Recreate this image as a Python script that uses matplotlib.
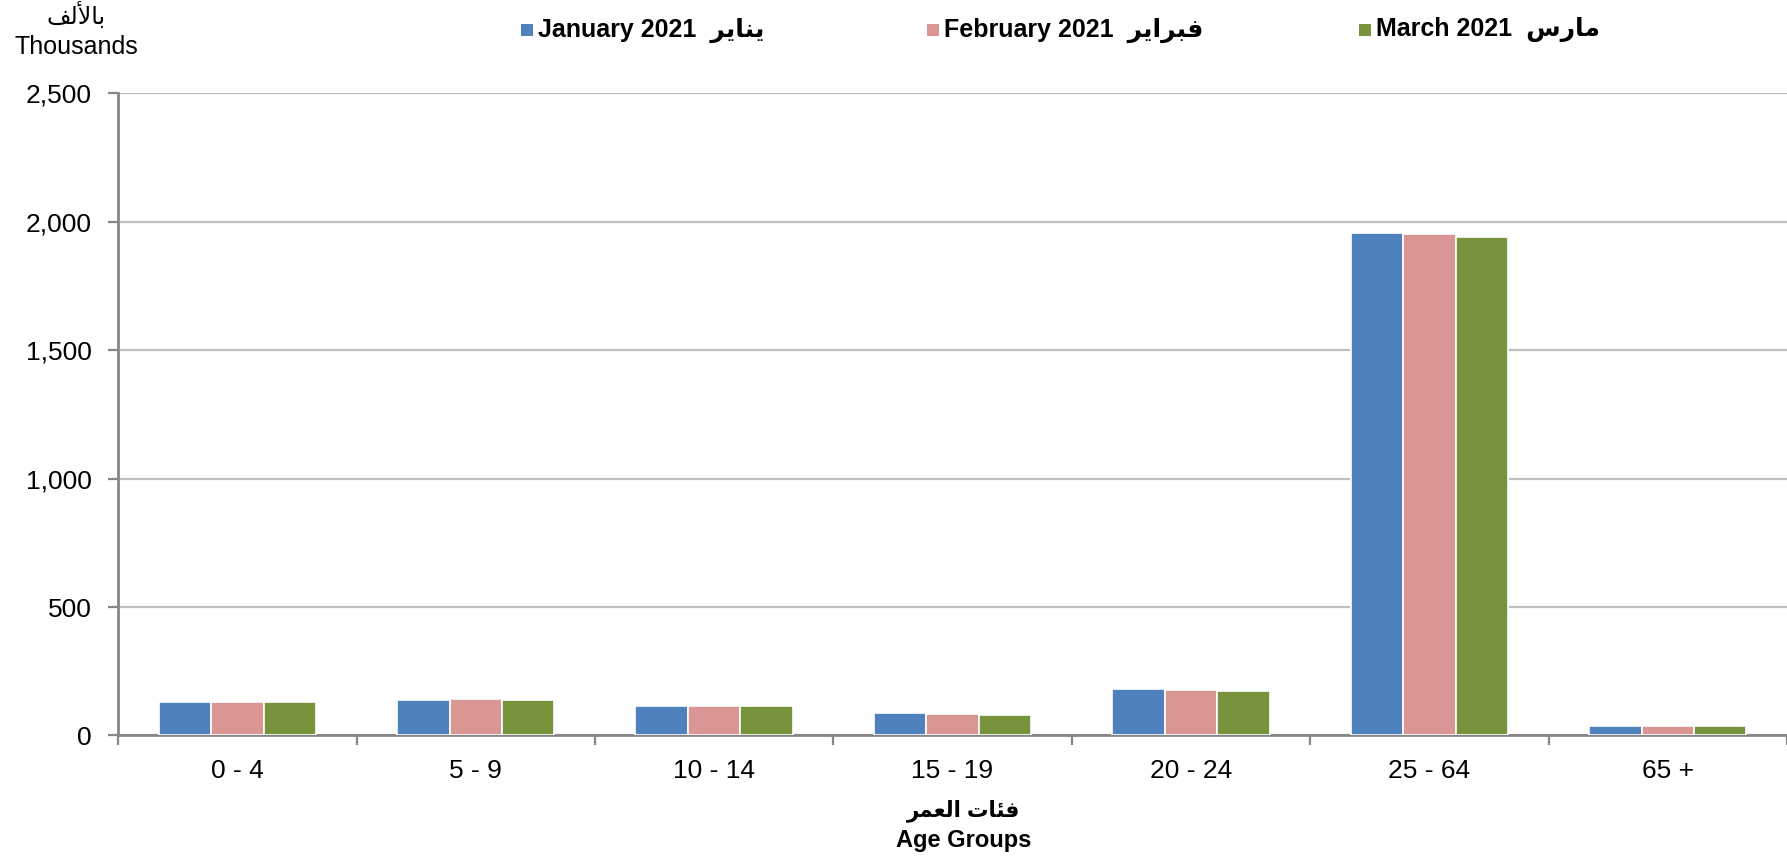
import matplotlib
matplotlib.use("Agg")
import matplotlib.pyplot as plt
from matplotlib.patches import Rectangle
import numpy as np

# ---- data ----
categories = ["0 - 4", "5 - 9", "10 - 14", "15 - 19", "20 - 24", "25 - 64", "65 +"]
jan = [130, 140, 116, 86, 182, 1957, 37]
feb = [130, 143, 116, 84, 178, 1952, 37]
mar = [130, 140, 116, 80, 174, 1940, 37]
series_en = ["January 2021", "February 2021", "March 2021"]
# Arabic month names, pre-shaped (presentation forms) in visual order
series_ar = ["\uFEAE\uFEF3\uFE8E\uFEE8\uFEF3",            # يناير
             "\uFEAE\uFEF3\uFE8D\uFEAE\uFE92\uFED3",      # فبراير
             "\uFEB1\uFEAD\uFE8E\uFEE3"]                  # مارس
unit_ar = "\uFED2\uFEDF\uFEF7\uFE8E\uFE91"                # بالألف
xlabel_ar = "\uFEAE\uFEE4\uFECC\uFEDF\uFE8D \uFE95\uFE8E\uFE8C\uFED3"  # فئات العمر
yticks = [0, 500, 1000, 1500, 2000, 2500]
colors = ["#4F81BD", "#D99694", "#77933C"]

FAM = ["Liberation Sans", "DejaVu Sans"]
plt.rcParams["font.family"] = FAM

fig = plt.figure(figsize=(17.87, 8.57), dpi=100)
ax = fig.add_axes([0.0661, 0.1418, 0.9339, 0.7491])

x = np.arange(len(categories))
bw = 0.22
for i, vals in enumerate([jan, feb, mar]):
    ax.bar(x + (i - 1) * bw, vals, width=bw, color=colors[i],
           edgecolor="white", linewidth=1.2, zorder=3)

ax.set_xlim(-0.5, len(categories) - 0.5)
ax.set_ylim(0, 2500)
ax.set_yticks(yticks)
ax.set_yticklabels([f"{v:,}" for v in yticks], fontsize=19)
ax.yaxis.grid(True, color="#BFBFBF", linewidth=1.6, zorder=0)
ax.set_axisbelow(True)

ax.set_xticks(x)
ax.set_xticklabels(categories, fontsize=19)
ax.set_xticks(np.arange(len(categories) + 1) - 0.5, minor=True)
ax.tick_params(axis="x", which="major", length=0, pad=17)
ax.tick_params(axis="x", which="minor", length=7, width=1.6, color="#868686")
ax.tick_params(axis="y", length=7, width=1.6, color="#868686", pad=12)

for s in ["top", "right"]:
    ax.spines[s].set_visible(False)
for s in ["left", "bottom"]:
    ax.spines[s].set_color("#868686")
    ax.spines[s].set_linewidth(2)

# axis title
ax_center = (0.0661 + 1.0) / 2 + 0.006
fig.text(ax_center, 1 - 811 / 857, xlabel_ar, ha="center", va="center",
         fontsize=15.5, fontweight="bold", family=FAM)
fig.text(ax_center, 1 - 841 / 857, "Age Groups", ha="center", va="center",
         fontsize=17, fontweight="bold", family=FAM)

# unit label
fig.text(76 / 1787, 1 - 16 / 857, unit_ar, ha="center", va="center",
         fontsize=17, family=FAM)
fig.text(76 / 1787, 1 - 47 / 857, "Thousands", ha="center", va="center",
         fontsize=18, family=FAM)

# legend (manual)
leg_x = [527, 933, 1365]
leg_y = 30
sq = 12
for i in range(3):
    fig.add_artist(Rectangle(((leg_x[i] - sq / 2) / 1787, 1 - (leg_y + sq / 2) / 857),
                             sq / 1787, sq / 857, transform=fig.transFigure,
                             facecolor=colors[i], edgecolor="none"))
    fig.text((leg_x[i] + 11) / 1787, 1 - leg_y / 857,
             series_en[i] + "  " + series_ar[i], ha="left", va="center",
             fontsize=18, fontweight="bold", family=FAM)

fig.savefig("out.png", dpi=100, facecolor="white")
